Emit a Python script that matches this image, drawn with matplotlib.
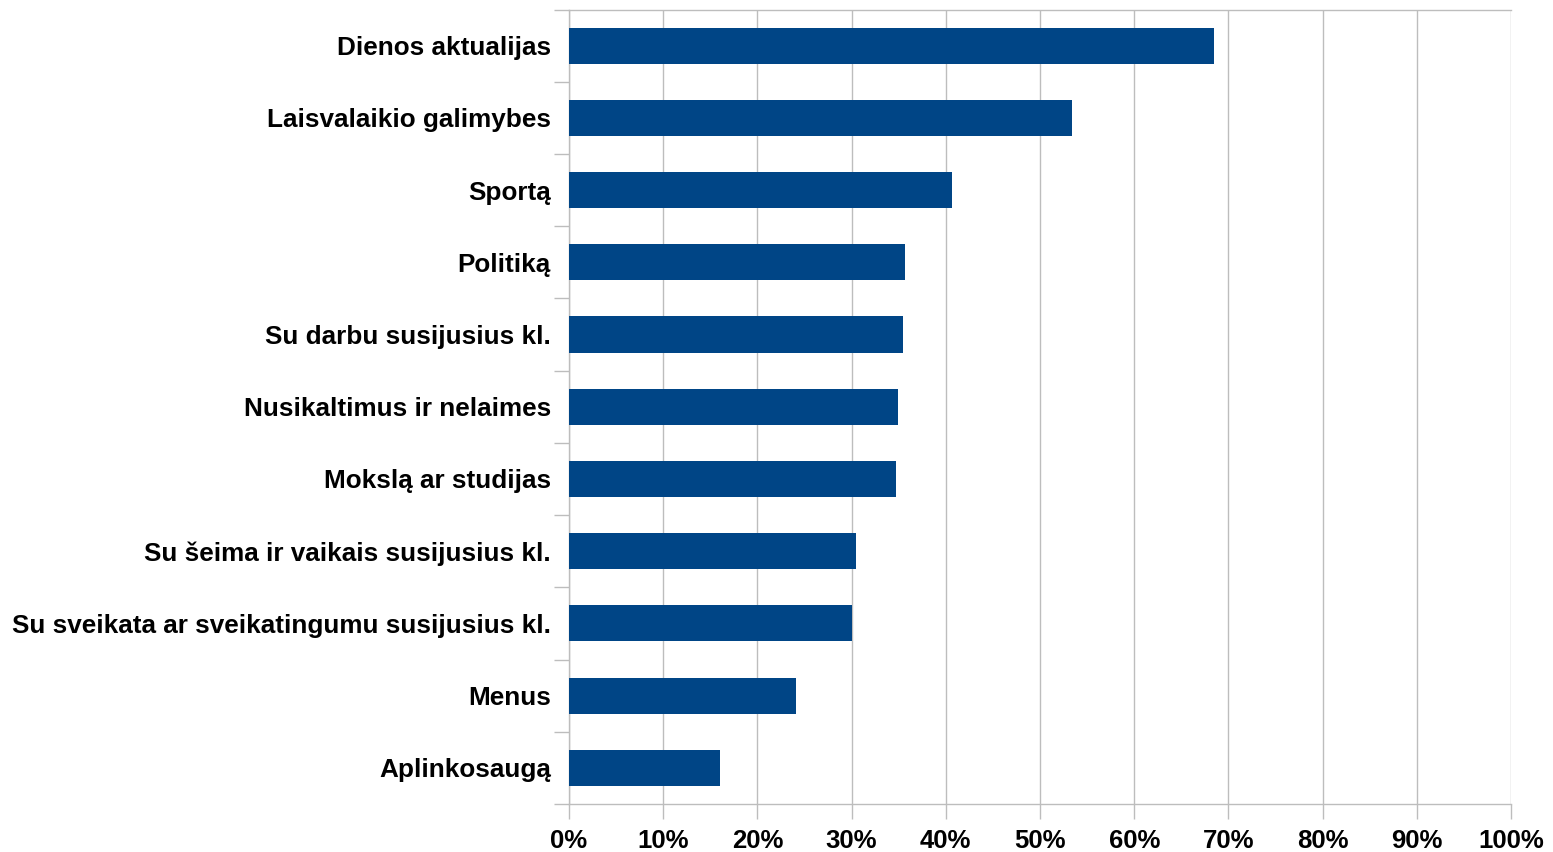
import matplotlib
matplotlib.use("Agg")
import matplotlib.pyplot as plt
from matplotlib.ticker import FixedLocator, NullFormatter

categories = [
    "Dienos aktualijas",
    "Laisvalaikio galimybes",
    "Sportą",
    "Politiką",
    "Su darbu susijusius kl.",
    "Nusikaltimus ir nelaimes",
    "Mokslą ar studijas",
    "Su šeima ir vaikais susijusius kl.",
    "Su sveikata ar sveikatingumu susijusius kl.",
    "Menus",
    "Aplinkosaugą",
]
values = [68.5, 53.4, 40.7, 35.7, 35.5, 34.9, 34.7, 30.5, 30.0, 24.1, 16.0]
x_ticks = [0, 10, 20, 30, 40, 50, 60, 70, 80, 90, 100]
x_tick_labels = [f"{t}%" for t in x_ticks]

plt.rcParams['font.family'] = ['Liberation Sans', 'DejaVu Sans']

fig = plt.figure(figsize=(15.53, 8.52), dpi=100)
ax = fig.add_axes([569/1553, 1 - 804/852, (1511 - 569)/1553, (804 - 9.5)/852])

n = len(categories)
ypos = list(range(n))
ax.barh(ypos, values, height=0.5, color="#004586", zorder=3)
ax.set_ylim(n - 0.5, -0.5)
ax.set_xlim(0, 100)

grey = "#bdbdbd"
ax.set_xticks(x_ticks)
ax.set_xticklabels(x_tick_labels, fontsize=18.5, fontweight="bold")
ax.xaxis.grid(True, color=grey, linewidth=1, zorder=0)

ax.set_yticks(ypos)
ax.set_yticklabels(categories, fontsize=18.8, fontweight="bold")
ax.tick_params(axis="y", length=0, pad=13)
ax.yaxis.set_minor_locator(FixedLocator([i - 0.5 for i in range(n + 1)]))
ax.yaxis.set_minor_formatter(NullFormatter())
ax.tick_params(axis="y", which="minor", length=11, color=grey, width=1)
ax.tick_params(axis="x", length=11, color=grey, width=1, pad=7)

for s in ["left", "bottom", "top"]:
    ax.spines[s].set_color(grey)
    ax.spines[s].set_linewidth(1)
ax.spines["right"].set_visible(False)

fig.savefig("out.png", dpi=100)
